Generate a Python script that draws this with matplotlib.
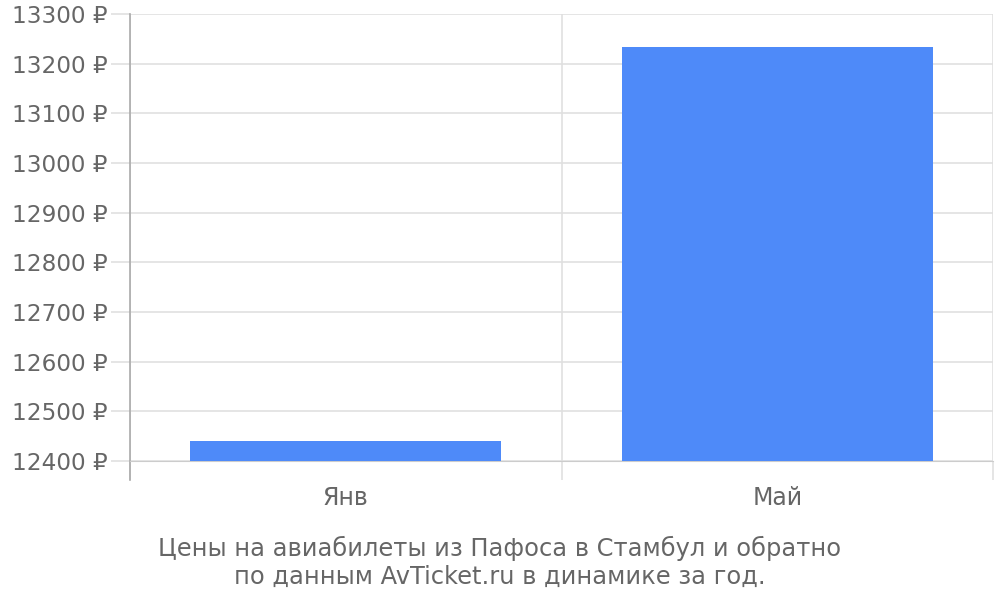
import numpy as np
import matplotlib
matplotlib.use('Agg')
import matplotlib.pyplot as plt

# данные
months = ['Янв', 'Май']
prices = [12441, 13234]
yticks = [12400, 12500, 12600, 12700, 12800, 12900, 13000, 13100, 13200, 13300]
title = 'Цены на авиабилеты из Пафоса в Стамбул и обратно\nпо данным AvTicket.ru в динамике за год.'

plt.rcParams['font.family'] = ['DejaVu Sans']
txt = '#666666'
grid = '#e0e0e0'

fig = plt.figure(figsize=(10, 6), dpi=100)
ax = fig.add_axes([0.130, 1 - 461 / 600, 0.863, 447 / 600])

x = np.arange(len(months))
ax.bar(x, prices, width=0.72, color='#4e8af9', zorder=3)

ax.set_xlim(-0.5, len(months) - 0.5)
ax.set_ylim(12400, 13300)
ax.set_yticks(yticks)
ax.set_yticklabels(['%d ₽' % v for v in yticks])
ax.set_xticks(x)
ax.set_xticklabels(months)

ax.grid(axis='y', color=grid, linewidth=1.2, zorder=0)
ax.set_xticks(np.arange(-0.5, len(months)), minor=True)
ax.grid(axis='x', which='minor', color=grid, linewidth=1.2, zorder=0)

ax.tick_params(axis='y', length=14, color=grid, width=1.2, pad=2,
               labelsize=16.7, labelcolor=txt)
ax.tick_params(axis='x', which='major', length=0, pad=18,
               labelsize=17, labelcolor=txt)
ax.tick_params(axis='x', which='minor', length=14, color=grid, width=1.2)

for s in ['top', 'right']:
    ax.spines[s].set_visible(False)
ax.spines['bottom'].set_color('#cccccc')
ax.spines['left'].set_color('#aaaaaa')
ax.spines['left'].set_linewidth(1.2)
ax.spines['left'].set_bounds(12362, 13300)

fig.text(0.5, 1 - 562 / 600, title, ha='center', va='center', fontsize=17.4,
         color=txt, linespacing=1.2)

fig.savefig('out.png', dpi=100, facecolor='white')
